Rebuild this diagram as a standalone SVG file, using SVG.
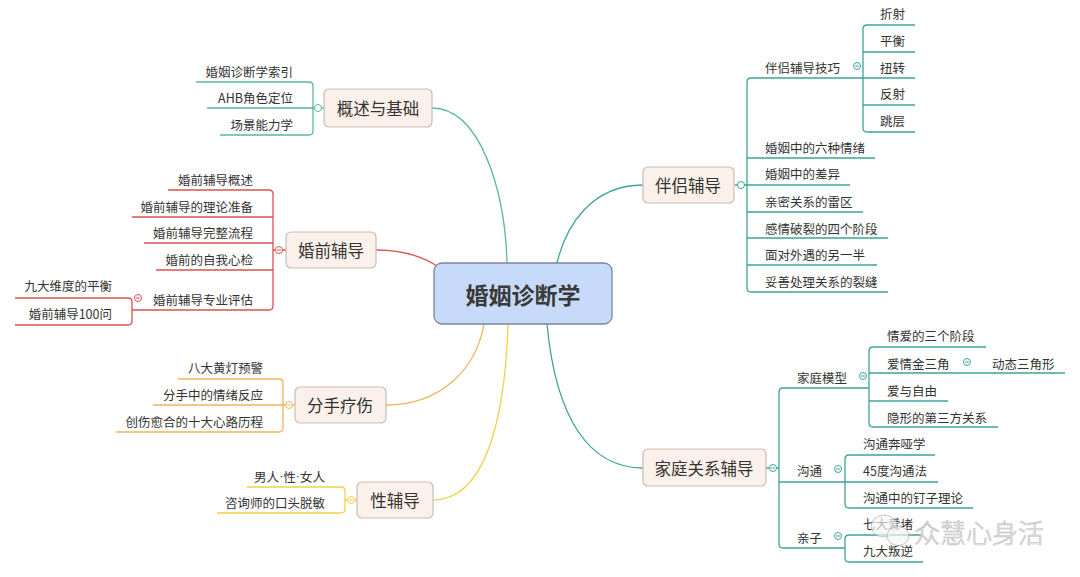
<svg xmlns="http://www.w3.org/2000/svg" width="1080" height="577" viewBox="0 0 1080 577">
<style>
text{font-family:"Noto Sans CJK SC","Microsoft YaHei",sans-serif;fill:#333;dominant-baseline:central}
.c{font-size:12.5px}
.e{text-anchor:end}
.m{font-size:16.5px;text-anchor:middle}
.root{font-size:23px;font-weight:bold;text-anchor:middle;fill:#3a3a3a}
.node{fill:#fbf1ea;stroke:#c9bdb3;stroke-width:1.2}
.ln{fill:none;stroke-width:1.3}
.g{stroke:#5cb89c}.r{stroke:#d9534f}.o{stroke:#f0b45a}.y{stroke:#f2d04a}.t{stroke:#3fa39b}
.k{fill:#fff;stroke-width:1}
.dot{font-family:"Liberation Sans",sans-serif}
.wm{font-size:26px;font-weight:300;fill:#f0f0f0;stroke:#b4b4b4;stroke-width:0.6;dominant-baseline:central}
</style>
<g id="connectors">
<path class="ln g" d="M432,108 C480,108 505,190 507,263"/>
<path class="ln r" d="M376,250 C402,250 420,255 437,266"/>
<path class="ln o" d="M386,405 C440,405 476,370 484,324"/>
<path class="ln y" d="M433,500 C485,500 505,420 508,324"/>
<path class="ln t" d="M643,185 C592,185 566,225 557,263"/>
<path class="ln t" d="M643,468 C590,468 556,420 547,324"/>
<path class="ln g" d="M196,82 H309 Q313,82 313,86 V131 Q313,135 309,135 H220 M207,108 H324"/>
<path class="ln r" d="M168,190 H269 Q273,190 273,194 V306 Q273,310 269,310 H132 M132,217 H273 M144,243 H273 M156,270 H273 M273,250 H286"/>
<path class="ln r" d="M15,298 H128 Q132,298 132,302 V321 Q132,325 128,325 H15"/>
<path class="ln o" d="M178,379 H279 Q283,379 283,383 V428 Q283,432 279,432 H116 M153,405 H295"/>
<path class="ln y" d="M247,487 H341 Q345,487 345,491 V509 Q345,513 341,513 H217 M345,500 H357"/>
<path class="ln t" d="M863,78 H751 Q747,78 747,82 V288 Q747,292 751,292 H888 M747,158 H875 M735,185 H850 M747,212 H863 M747,238 H888 M747,265 H877"/>
<path class="ln t" d="M915,25 H867 Q863,25 863,29 V128 Q863,132 867,132 H915 M863,52 H915 M863,78 H915 M863,105 H915"/>
<path class="ln t" d="M869,388 H783 Q779,388 779,392 V544 Q779,548 783,548 H845 M766,468 H779 M779,482 H845"/>
<path class="ln t" d="M986,347 H873 Q869,347 869,351 V423 Q869,427 873,427 H998 M869,373 H1065 M869,401 H948"/>
<path class="ln t" d="M935,455 H849 Q845,455 845,459 V504 Q845,508 849,508 H973 M845,482 H938"/>
<path class="ln t" d="M923,535 H849 Q845,535 845,539 V558 Q845,562 849,562 H923"/>
<g class="k">
<circle class="g" cx="318" cy="108" r="3.5"/>
<circle class="r" cx="279" cy="250" r="3.5"/><path class="r" d="M277,250 H281"/>
<circle class="r" cx="138" cy="298" r="3.5"/><path class="r" d="M136,298 H140"/>
<circle class="o" cx="289" cy="405" r="3.5"/><path class="o" d="M287,405 H291"/>
<circle class="y" cx="351" cy="500" r="3.5"/><path class="y" d="M349,500 H353"/>
<circle class="t" cx="741" cy="185" r="3.5"/>
<circle class="t" cx="857" cy="66" r="3.5"/><path class="t" d="M855,66 H859"/>
<circle class="t" cx="773" cy="468" r="3.5"/><path class="t" d="M771,468 H775"/>
<circle class="t" cx="863" cy="376" r="3.5"/><path class="t" d="M861,376 H865"/>
<circle class="t" cx="967" cy="362" r="3.5"/><path class="t" d="M965,362 H969"/>
<circle class="t" cx="838" cy="469" r="3.5"/><path class="t" d="M836,469 H840"/>
<circle class="t" cx="838" cy="536" r="3.5"/><path class="t" d="M836,536 H840"/>
</g>
</g>
<g id="root">
<rect x="434" y="263" width="178" height="61" rx="8" fill="#c8daf9" stroke="#7a8699" stroke-width="1.3"/>
<text class="root" x="523" y="294">婚姻诊断学</text>
</g>
<g id="n-gaishu">
<rect class="node" x="324" y="89" width="108" height="38" rx="5"/>
<text class="m" x="378" y="108">概述与基础</text>
<text class="c e" x="293" y="71">婚姻诊断学索引</text>
<text class="c e" x="293" y="97">AHB角色定位</text>
<text class="c e" x="293" y="124">场景能力学</text>
</g>
<g id="n-hunqian">
<rect class="node" x="286" y="232" width="90" height="36" rx="5"/>
<text class="m" x="331" y="250">婚前辅导</text>
<text class="c e" x="253" y="179">婚前辅导概述</text>
<text class="c e" x="253" y="206">婚前辅导的理论准备</text>
<text class="c e" x="253" y="232">婚前辅导完整流程</text>
<text class="c e" x="253" y="259">婚前的自我心检</text>
<text class="c e" x="253" y="299">婚前辅导专业评估</text>
<text class="c e" x="112" y="285">九大维度的平衡</text>
<text class="c e" x="112" y="313">婚前辅导100问</text>
</g>
<g id="n-fenshou">
<rect class="node" x="295" y="387" width="91" height="36" rx="5"/>
<text class="m" x="340" y="405">分手疗伤</text>
<text class="c e" x="263" y="367">八大黄灯预警</text>
<text class="c e" x="263" y="394">分手中的情绪反应</text>
<text class="c e" x="263" y="421">创伤愈合的十大心路历程</text>
</g>
<g id="n-xing">
<rect class="node" x="357" y="482" width="76" height="36" rx="5"/>
<text class="m" x="395" y="500">性辅导</text>
<text class="c e" x="325" y="476">男人<tspan class="dot">·</tspan>性<tspan class="dot">·</tspan>女人</text>
<text class="c e" x="325" y="502">咨询师的口头脱敏</text>
</g>
<g id="n-banlv">
<rect class="node" x="643" y="167" width="91" height="36" rx="5"/>
<text class="m" x="688" y="185">伴侣辅导</text>
<text class="c" x="765" y="67">伴侣辅导技巧</text>
<text class="c" x="880" y="13">折射</text>
<text class="c" x="880" y="40">平衡</text>
<text class="c" x="880" y="67">扭转</text>
<text class="c" x="880" y="93">反射</text>
<text class="c" x="880" y="120">跳层</text>
<text class="c" x="765" y="147">婚姻中的六种情绪</text>
<text class="c" x="765" y="173">婚姻中的差异</text>
<text class="c" x="765" y="201">亲密关系的雷区</text>
<text class="c" x="765" y="228">感情破裂的四个阶段</text>
<text class="c" x="765" y="254">面对外遇的另一半</text>
<text class="c" x="765" y="281">妥善处理关系的裂缝</text>
</g>
<g id="n-jiating">
<rect class="node" x="643" y="449" width="123" height="37" rx="5"/>
<text class="m" x="704" y="468">家庭关系辅导</text>
<text class="c" x="797" y="377">家庭模型</text>
<text class="c" x="887" y="335">情爱的三个阶段</text>
<text class="c" x="887" y="363">爱情金三角</text>
<text class="c" x="992" y="363">动态三角形</text>
<text class="c" x="887" y="390">爱与自由</text>
<text class="c" x="887" y="417">隐形的第三方关系</text>
<text class="c" x="797" y="470">沟通</text>
<text class="c" x="863" y="443">沟通奔哑学</text>
<text class="c" x="863" y="470">45度沟通法</text>
<text class="c" x="863" y="497">沟通中的钉子理论</text>
<text class="c" x="797" y="537">亲子</text>
<text class="c" x="863" y="523">七大爱堵</text>
<text class="c" x="863" y="550">九大叛逆</text>
</g>
<g id="watermark" opacity="0.9">
<ellipse cx="884" cy="526" rx="13" ry="11" fill="#f6f6f6" stroke="#b0b0b0" stroke-width="0.8" fill-opacity="0.75"/>
<ellipse cx="898" cy="536" rx="11" ry="9.5" fill="#f6f6f6" stroke="#b0b0b0" stroke-width="0.8" fill-opacity="0.75"/>
<text class="wm" x="914" y="531">众慧心身活</text>
</g>
</svg>
